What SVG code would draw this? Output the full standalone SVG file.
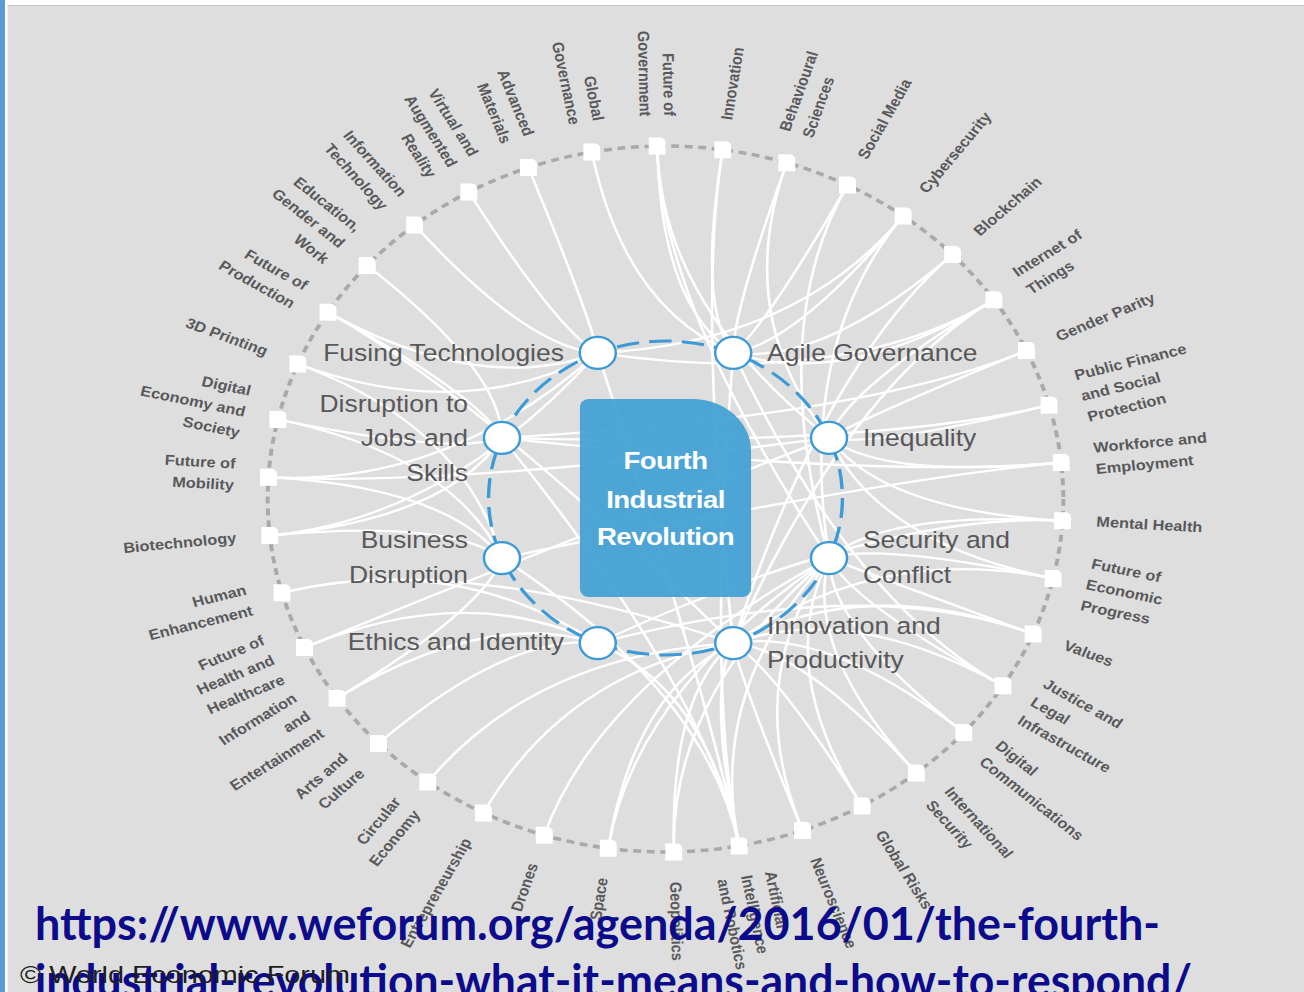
<svg xmlns="http://www.w3.org/2000/svg" xmlns:xlink="http://www.w3.org/1999/xlink" width="1304" height="992" viewBox="0 0 1304 992">
<style>
.lbl{font-family:"Liberation Sans",Arial,sans-serif;font-weight:bold;font-size:14.5px;fill:#59595b}
.in{font-family:"Liberation Sans",Arial,sans-serif;font-size:23.5px;fill:#58585a}
.ln{fill:none;stroke:#ffffff;stroke-width:2.3}
.kn{fill:#ffffff;stroke:#3c9ad7;stroke-width:2.2}
.sqf{fill:#ffffff}
.e{text-anchor:end}
.url{font-family:Lato,"Open Sans",sans-serif;font-weight:bold;font-size:46px;fill:#0b0b8c}
</style>
<defs>
<path id="sq" class="sqf" d="M-7.5 -8.5 h10 a5 5 0 0 1 5 5 v12 h-15 z"/>
</defs>
<rect x="0" y="0" width="1304" height="992" fill="#ffffff"/>
<rect x="7.5" y="5" width="1296.5" height="987" fill="#dedede"/>
<line x1="7.5" y1="5.5" x2="1304" y2="5.5" stroke="#c4c4c4" stroke-width="1"/>
<rect x="0" y="0" width="5" height="992" fill="#5b9bd5"/>

<g transform="matrix(1.127 0 0 1 -84.52 0)">
<circle cx="665.5" cy="499" r="353" fill="none" stroke="#a9a9a9" stroke-width="3.5" stroke-dasharray="7 5"/>

<g id="connectors">
<path class="ln" d="M339.3 364 Q486.1 424.7 605.4 352.9"/>
<path class="ln" d="M339.3 364 Q486.1 424.7 520.4 558.1"/>
<path class="ln" d="M366 312.2 Q500.8 396.3 605.4 352.9"/>
<path class="ln" d="M366 312.2 Q500.8 396.3 520.4 437.9"/>
<path class="ln" d="M366 312.2 Q500.8 396.3 725.6 643.1"/>
<path class="ln" d="M400.8 265.4 Q519.9 370.5 520.4 437.9"/>
<path class="ln" d="M442.9 225.1 Q543.1 348.4 605.4 352.9"/>
<path class="ln" d="M491 192.1 Q569.5 330.2 605.4 352.9"/>
<path class="ln" d="M543.9 167.6 Q598.6 316.7 605.4 352.9"/>
<path class="ln" d="M600.1 152.1 Q629.5 308.2 725.6 352.9"/>
<path class="ln" d="M658.1 146.1 Q661.4 304.9 725.6 352.9"/>
<path class="ln" d="M658.1 146.1 Q661.4 304.9 810.6 437.9"/>
<path class="ln" d="M658.1 146.1 Q661.4 304.9 810.6 558.1"/>
<path class="ln" d="M716.3 149.7 Q693.4 306.9 725.6 352.9"/>
<path class="ln" d="M716.3 149.7 Q693.4 306.9 725.6 643.1"/>
<path class="ln" d="M773.1 162.8 Q724.7 314.1 725.6 352.9"/>
<path class="ln" d="M773.1 162.8 Q724.7 314.1 810.6 437.9"/>
<path class="ln" d="M827 185.1 Q754.3 326.4 725.6 352.9"/>
<path class="ln" d="M827 185.1 Q754.3 326.4 810.6 558.1"/>
<path class="ln" d="M876.4 216 Q781.5 343.4 725.6 352.9"/>
<path class="ln" d="M876.4 216 Q781.5 343.4 810.6 558.1"/>
<path class="ln" d="M876.4 216 Q781.5 343.4 605.4 352.9"/>
<path class="ln" d="M920.2 254.6 Q805.6 364.6 725.6 352.9"/>
<path class="ln" d="M920.2 254.6 Q805.6 364.6 725.6 643.1"/>
<path class="ln" d="M956.9 299.8 Q825.8 389.4 725.6 352.9"/>
<path class="ln" d="M956.9 299.8 Q825.8 389.4 605.4 352.9"/>
<path class="ln" d="M956.9 299.8 Q825.8 389.4 810.6 437.9"/>
<path class="ln" d="M956.9 299.8 Q825.8 389.4 725.6 643.1"/>
<path class="ln" d="M985.8 350.5 Q841.7 417.3 810.6 437.9"/>
<path class="ln" d="M985.8 350.5 Q841.7 417.3 520.4 437.9"/>
<path class="ln" d="M1005.8 405.2 Q852.7 447.4 810.6 437.9"/>
<path class="ln" d="M1005.8 405.2 Q852.7 447.4 520.4 437.9"/>
<path class="ln" d="M1016.6 462.5 Q858.6 478.9 810.6 437.9"/>
<path class="ln" d="M1016.6 462.5 Q858.6 478.9 520.4 437.9"/>
<path class="ln" d="M1016.6 462.5 Q858.6 478.9 520.4 558.1"/>
<path class="ln" d="M1017.8 520.8 Q859.3 511 810.6 437.9"/>
<path class="ln" d="M1017.8 520.8 Q859.3 511 605.4 643.1"/>
<path class="ln" d="M1017.8 520.8 Q859.3 511 810.6 558.1"/>
<path class="ln" d="M1009.4 578.5 Q854.6 542.7 810.6 437.9"/>
<path class="ln" d="M1009.4 578.5 Q854.6 542.7 725.6 643.1"/>
<path class="ln" d="M1009.4 578.5 Q854.6 542.7 810.6 558.1"/>
<path class="ln" d="M991.7 634 Q844.9 573.3 810.6 558.1"/>
<path class="ln" d="M991.7 634 Q844.9 573.3 605.4 643.1"/>
<path class="ln" d="M991.7 634 Q844.9 573.3 725.6 643.1"/>
<path class="ln" d="M965 685.8 Q830.2 601.7 810.6 558.1"/>
<path class="ln" d="M965 685.8 Q830.2 601.7 725.6 352.9"/>
<path class="ln" d="M965 685.8 Q830.2 601.7 725.6 643.1"/>
<path class="ln" d="M930.2 732.6 Q811.1 627.5 725.6 643.1"/>
<path class="ln" d="M930.2 732.6 Q811.1 627.5 810.6 558.1"/>
<path class="ln" d="M888.1 772.9 Q787.9 649.6 810.6 558.1"/>
<path class="ln" d="M888.1 772.9 Q787.9 649.6 725.6 643.1"/>
<path class="ln" d="M840 805.9 Q761.5 667.8 810.6 558.1"/>
<path class="ln" d="M840 805.9 Q761.5 667.8 725.6 643.1"/>
<path class="ln" d="M787.1 830.4 Q732.4 681.3 725.6 643.1"/>
<path class="ln" d="M787.1 830.4 Q732.4 681.3 810.6 558.1"/>
<path class="ln" d="M730.9 845.9 Q701.5 689.8 605.4 352.9"/>
<path class="ln" d="M730.9 845.9 Q701.5 689.8 520.4 437.9"/>
<path class="ln" d="M730.9 845.9 Q701.5 689.8 520.4 558.1"/>
<path class="ln" d="M730.9 845.9 Q701.5 689.8 605.4 643.1"/>
<path class="ln" d="M730.9 845.9 Q701.5 689.8 725.6 643.1"/>
<path class="ln" d="M730.9 845.9 Q701.5 689.8 810.6 558.1"/>
<path class="ln" d="M730.9 845.9 Q701.5 689.8 725.6 352.9"/>
<path class="ln" d="M672.9 851.9 Q669.6 693.1 810.6 558.1"/>
<path class="ln" d="M672.9 851.9 Q669.6 693.1 725.6 643.1"/>
<path class="ln" d="M614.7 848.3 Q637.6 691.1 725.6 643.1"/>
<path class="ln" d="M614.7 848.3 Q637.6 691.1 810.6 558.1"/>
<path class="ln" d="M557.9 835.2 Q606.3 683.9 810.6 558.1"/>
<path class="ln" d="M504 812.9 Q576.7 671.6 725.6 643.1"/>
<path class="ln" d="M454.6 782 Q549.5 654.6 725.6 643.1"/>
<path class="ln" d="M410.8 743.4 Q525.4 633.5 605.4 643.1"/>
<path class="ln" d="M374.1 698.2 Q505.2 608.6 605.4 643.1"/>
<path class="ln" d="M374.1 698.2 Q505.2 608.6 520.4 558.1"/>
<path class="ln" d="M345.2 647.5 Q489.3 580.7 605.4 643.1"/>
<path class="ln" d="M345.2 647.5 Q489.3 580.7 810.6 437.9"/>
<path class="ln" d="M325.2 592.8 Q478.3 550.6 605.4 643.1"/>
<path class="ln" d="M325.2 592.8 Q478.3 550.6 725.6 643.1"/>
<path class="ln" d="M314.4 535.5 Q472.3 519 605.4 352.9"/>
<path class="ln" d="M314.4 535.5 Q472.3 519 520.4 558.1"/>
<path class="ln" d="M314.4 535.5 Q472.3 519 520.4 437.9"/>
<path class="ln" d="M313.2 477.2 Q471.7 487 605.4 352.9"/>
<path class="ln" d="M313.2 477.2 Q471.7 487 520.4 558.1"/>
<path class="ln" d="M313.2 477.2 Q471.7 487 810.6 437.9"/>
<path class="ln" d="M321.6 419.5 Q476.3 455.3 520.4 437.9"/>
<path class="ln" d="M321.6 419.5 Q476.3 455.3 520.4 558.1"/>
</g>

<g id="hub">
<path d="M597.6 399 H689.4 A52 52 0 0 1 741.4 451 V589 A8 8 0 0 1 733.4 597 H597.6 A8 8 0 0 1 589.6 589 V407 A8 8 0 0 1 597.6 399 Z" fill="#41a0d4" fill-opacity="0.93"/>
<text x="665.5" y="469" text-anchor="middle" font-family="Liberation Sans, Arial, sans-serif" font-weight="bold" font-size="24.5" letter-spacing="-0.5" fill="#ffffff">Fourth</text>
<text x="665.5" y="507.5" text-anchor="middle" font-family="Liberation Sans, Arial, sans-serif" font-weight="bold" font-size="24.5" letter-spacing="-0.5" fill="#ffffff">Industrial</text>
<text x="665.5" y="545.5" text-anchor="middle" font-family="Liberation Sans, Arial, sans-serif" font-weight="bold" font-size="24.5" letter-spacing="-0.5" fill="#ffffff">Revolution</text>
</g>

<circle cx="665.5" cy="498" r="157" fill="none" stroke="#3c9ad7" stroke-width="3" stroke-dasharray="20 9"/>

<g id="k-fusing-technologies"><circle class="kn" cx="605.4" cy="352.9" r="16"/><text class="in e" x="575.4" y="361">Fusing Technologies</text></g>
<g id="k-agile-governance"><circle class="kn" cx="725.6" cy="352.9" r="16"/><text class="in" x="755.6" y="361">Agile Governance</text></g>
<g id="k-disruption-jobs"><circle class="kn" cx="520.4" cy="437.9" r="16"/><text class="in e"><tspan x="490.3" y="412">Disruption to</tspan><tspan x="490.3" y="446.3">Jobs and</tspan><tspan x="490.3" y="480.6">Skills</tspan></text></g>
<g id="k-inequality"><circle class="kn" cx="810.6" cy="437.9" r="16"/><text class="in" x="840.7" y="446">Inequality</text></g>
<g id="k-business-disruption"><circle class="kn" cx="520.4" cy="558.1" r="16"/><text class="in e"><tspan x="490.3" y="548.3">Business</tspan><tspan x="490.3" y="582.7">Disruption</tspan></text></g>
<g id="k-security-conflict"><circle class="kn" cx="810.6" cy="558.1" r="16"/><text class="in"><tspan x="840.7" y="548.3">Security and</tspan><tspan x="840.7" y="582.7">Conflict</tspan></text></g>
<g id="k-ethics-identity"><circle class="kn" cx="605.4" cy="643.1" r="16"/><text class="in e" x="575.4" y="650">Ethics and Identity</text></g>
<g id="k-innovation-productivity"><circle class="kn" cx="725.6" cy="643.1" r="16"/><text class="in"><tspan x="755.6" y="634">Innovation and</tspan><tspan x="755.6" y="668.3">Productivity</tspan></text></g>

<g id="n01"><use href="#sq" x="339.3" y="364"/><text class="lbl e" transform="translate(311.6 352.5) rotate(22.484)"><tspan x="0" y="4">3D Printing</tspan></text></g>
<g id="n02"><use href="#sq" x="366" y="312.2"/><text class="lbl e" transform="translate(340.6 296.3) rotate(31.958)"><tspan x="0" y="-6.75">Future of</tspan><tspan x="0" y="14.75">Production</tspan></text></g>
<g id="n03"><use href="#sq" x="400.8" y="265.4"/><text class="lbl e" transform="translate(378.3 245.6) rotate(41.432)"><tspan x="0" y="-17.5">Education,</tspan><tspan x="0" y="4">Gender and</tspan><tspan x="0" y="25.5">Work</tspan></text></g>
<g id="n04"><use href="#sq" x="442.9" y="225.1"/><text class="lbl e" transform="translate(423.9 201.8) rotate(50.905)"><tspan x="0" y="-6.75">Information</tspan><tspan x="0" y="14.75">Technology</tspan></text></g>
<g id="n05"><use href="#sq" x="491" y="192.1"/><text class="lbl e" transform="translate(476.2 166.1) rotate(60.379)"><tspan x="0" y="-17.5">Virtual and</tspan><tspan x="0" y="4">Augmented</tspan><tspan x="0" y="25.5">Reality</tspan></text></g>
<g id="n06"><use href="#sq" x="543.9" y="167.6"/><text class="lbl e" transform="translate(533.6 139.4) rotate(69.853)"><tspan x="0" y="-6.75">Advanced</tspan><tspan x="0" y="14.75">Materials</tspan></text></g>
<g id="n07"><use href="#sq" x="600.1" y="152.1"/><text class="lbl e" transform="translate(594.6 122.6) rotate(79.326)"><tspan x="0" y="-6.75">Global</tspan><tspan x="0" y="14.75">Governance</tspan></text></g>
<g id="n08"><use href="#sq" x="658.1" y="146.1"/><text class="lbl e" transform="translate(657.5 116.1) rotate(88.8)"><tspan x="0" y="-6.75">Future of</tspan><tspan x="0" y="14.75">Government</tspan></text></g>
<g id="n09"><use href="#sq" x="716.3" y="149.7"/><text class="lbl" transform="translate(720.6 120) rotate(-81.726)"><tspan x="0" y="4">Innovation</tspan></text></g>
<g id="n10"><use href="#sq" x="773.1" y="162.8"/><text class="lbl" transform="translate(782.2 134.2) rotate(-72.253)"><tspan x="0" y="-6.75">Behavioural</tspan><tspan x="0" y="14.75">Sciences</tspan></text></g>
<g id="n11"><use href="#sq" x="827" y="185.1"/><text class="lbl" transform="translate(840.7 158.4) rotate(-62.779)"><tspan x="0" y="4">Social Media</tspan></text></g>
<g id="n12"><use href="#sq" x="876.4" y="216"/><text class="lbl" transform="translate(894.4 191.9) rotate(-53.305)"><tspan x="0" y="4">Cybersecurity</tspan></text></g>
<g id="n13"><use href="#sq" x="920.2" y="254.6"/><text class="lbl" transform="translate(941.8 233.8) rotate(-43.832)"><tspan x="0" y="4">Blockchain</tspan></text></g>
<g id="n14"><use href="#sq" x="956.9" y="299.8"/><text class="lbl" transform="translate(981.7 282.9) rotate(-34.358)"><tspan x="0" y="-6.75">Internet of</tspan><tspan x="0" y="14.75">Things</tspan></text></g>
<g id="n15"><use href="#sq" x="985.8" y="350.5"/><text class="lbl" transform="translate(1013 337.8) rotate(-24.884)"><tspan x="0" y="4">Gender Parity</tspan></text></g>
<g id="n16"><use href="#sq" x="1005.8" y="405.2"/><text class="lbl" transform="translate(1034.7 397.2) rotate(-15.411)"><tspan x="0" y="-17.5">Public Finance</tspan><tspan x="0" y="4">and Social</tspan><tspan x="0" y="25.5">Protection</tspan></text></g>
<g id="n17"><use href="#sq" x="1016.6" y="462.5"/><text class="lbl" transform="translate(1046.4 459.4) rotate(-5.937)"><tspan x="0" y="-6.75">Workforce and</tspan><tspan x="0" y="14.75">Employment</tspan></text></g>
<g id="n18"><use href="#sq" x="1017.8" y="520.8"/><text class="lbl" transform="translate(1047.8 522.6) rotate(3.537)"><tspan x="0" y="4">Mental Health</tspan></text></g>
<g id="n19"><use href="#sq" x="1009.4" y="578.5"/><text class="lbl" transform="translate(1038.7 585.2) rotate(13.011)"><tspan x="0" y="-17.5">Future of</tspan><tspan x="0" y="4">Economic</tspan><tspan x="0" y="25.5">Progress</tspan></text></g>
<g id="n20"><use href="#sq" x="991.7" y="634"/><text class="lbl" transform="translate(1019.4 645.5) rotate(22.484)"><tspan x="0" y="4">Values</tspan></text></g>
<g id="n21"><use href="#sq" x="965" y="685.8"/><text class="lbl" transform="translate(990.4 701.7) rotate(31.958)"><tspan x="0" y="-17.5">Justice and</tspan><tspan x="0" y="4">Legal</tspan><tspan x="0" y="25.5">Infrastructure</tspan></text></g>
<g id="n22"><use href="#sq" x="930.2" y="732.6"/><text class="lbl" transform="translate(952.7 752.4) rotate(41.432)"><tspan x="0" y="-6.75">Digital</tspan><tspan x="0" y="14.75">Communications</tspan></text></g>
<g id="n23"><use href="#sq" x="888.1" y="772.9"/><text class="lbl" transform="translate(907.1 796.2) rotate(50.905)"><tspan x="0" y="-6.75">International</tspan><tspan x="0" y="14.75">Security</tspan></text></g>
<g id="n24"><use href="#sq" x="840" y="805.9"/><text class="lbl" transform="translate(854.8 831.9) rotate(60.379)"><tspan x="0" y="4">Global Risks</tspan></text></g>
<g id="n25"><use href="#sq" x="787.1" y="830.4"/><text class="lbl" transform="translate(797.4 858.6) rotate(69.853)"><tspan x="0" y="4">Neuroscience</tspan></text></g>
<g id="n26"><use href="#sq" x="730.9" y="845.9"/><text class="lbl" transform="translate(736.4 875.4) rotate(79.326)"><tspan x="0" y="-17.5">Artificial</tspan><tspan x="0" y="4">Intelligence</tspan><tspan x="0" y="25.5">and Robotics</tspan></text></g>
<g id="n27"><use href="#sq" x="672.9" y="851.9"/><text class="lbl" transform="translate(673.5 881.9) rotate(88.8)"><tspan x="0" y="4">Geopolitics</tspan></text></g>
<g id="n28"><use href="#sq" x="614.7" y="848.3"/><text class="lbl e" transform="translate(610.4 878) rotate(-81.726)"><tspan x="0" y="4">Space</tspan></text></g>
<g id="n29"><use href="#sq" x="557.9" y="835.2"/><text class="lbl e" transform="translate(548.8 863.8) rotate(-72.253)"><tspan x="0" y="4">Drones</tspan></text></g>
<g id="n30"><use href="#sq" x="504" y="812.9"/><text class="lbl e" transform="translate(490.3 839.6) rotate(-62.779)"><tspan x="0" y="4">Entrepreneurship</tspan></text></g>
<g id="n31"><use href="#sq" x="454.6" y="782"/><text class="lbl e" transform="translate(436.6 806.1) rotate(-53.305)"><tspan x="0" y="-6.75">Circular</tspan><tspan x="0" y="14.75">Economy</tspan></text></g>
<g id="n32"><use href="#sq" x="410.8" y="743.4"/><text class="lbl e" transform="translate(389.2 764.2) rotate(-43.832)"><tspan x="0" y="-6.75">Arts and</tspan><tspan x="0" y="14.75">Culture</tspan></text></g>
<g id="n33"><use href="#sq" x="374.1" y="698.2"/><text class="lbl e" transform="translate(349.3 715.1) rotate(-34.358)"><tspan x="0" y="-17.5">Information</tspan><tspan x="0" y="4">and</tspan><tspan x="0" y="25.5">Entertainment</tspan></text></g>
<g id="n34"><use href="#sq" x="345.2" y="647.5"/><text class="lbl e" transform="translate(318 660.2) rotate(-24.884)"><tspan x="0" y="-17.5">Future of</tspan><tspan x="0" y="4">Health and</tspan><tspan x="0" y="25.5">Healthcare</tspan></text></g>
<g id="n35"><use href="#sq" x="325.2" y="592.8"/><text class="lbl e" transform="translate(296.3 600.8) rotate(-15.411)"><tspan x="0" y="-6.75">Human</tspan><tspan x="0" y="14.75">Enhancement</tspan></text></g>
<g id="n36"><use href="#sq" x="314.4" y="535.5"/><text class="lbl e" transform="translate(284.6 538.6) rotate(-5.937)"><tspan x="0" y="4">Biotechnology</tspan></text></g>
<g id="n37"><use href="#sq" x="313.2" y="477.2"/><text class="lbl e" transform="translate(283.2 475.4) rotate(3.537)"><tspan x="0" y="-6.75">Future of</tspan><tspan x="0" y="14.75">Mobility</tspan></text></g>
<g id="n38"><use href="#sq" x="321.6" y="419.5"/><text class="lbl e" transform="translate(292.3 412.8) rotate(13.011)"><tspan x="0" y="-17.5">Digital</tspan><tspan x="0" y="4">Economy and</tspan><tspan x="0" y="25.5">Society</tspan></text></g>
</g>

<g id="caption">
<text class="url" x="35" y="940" textLength="1125" lengthAdjust="spacingAndGlyphs">https://www.weforum.org/agenda/2016/01/the-fourth-</text>
<text class="url" x="35" y="997" textLength="1157" lengthAdjust="spacingAndGlyphs">industrial-revolution-what-it-means-and-how-to-respond/</text>
<text x="20" y="983" font-family="Liberation Sans, Arial, sans-serif" font-size="24" fill="#1e1e1e" textLength="330" lengthAdjust="spacingAndGlyphs">© World Economic Forum</text>
</g>
</svg>
